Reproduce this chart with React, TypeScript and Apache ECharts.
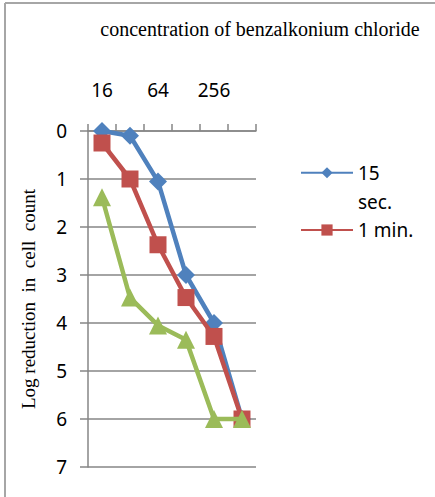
import React, { useEffect, useRef } from "react";
import * as echarts from "echarts";

const categories = ["16", "32", "64", "128", "256", "512"];
const sec15 = [0, 0.1, 1.05, 3.0, 4.0, 6.0];
const min1 = [0.25, 1.0, 2.37, 3.47, 4.28, 6.0];
const min5 = [1.38, 3.47, 4.05, 4.35, 6.0, 6.0];
const yTicks = [0, 7, 1];

const TITLE = "concentration of benzalkonium chloride";
const YNAME = "Log reduction  in  cell  count";

export default function App() {
  const ref = useRef<HTMLDivElement>(null);
  useEffect(() => {
    document.body.style.margin = "0";
    const chart = echarts.init(ref.current!, null, { renderer: "svg" });
    const grey = "#868686";
    const sans = "'Noto Sans', sans-serif";
    const serif = "'Liberation Serif', 'Times New Roman', serif";
    chart.setOption({
      animation: false,
      backgroundColor: "#ffffff",
      title: {
        text: TITLE,
        left: 255,
        top: 14,
        textAlign: "center",
        textStyle: { fontFamily: serif, fontWeight: "normal", fontSize: 20, color: "#000" },
      },
      graphic: [
        { type: "line", shape: { x1: 5, y1: 3, x2: 435, y2: 3 }, style: { stroke: "#a6a6a6", lineWidth: 2 } },
        { type: "line", shape: { x1: 5, y1: 3, x2: 5, y2: 497 }, style: { stroke: "#a6a6a6", lineWidth: 2 } },
      ],
      grid: { left: 88, right: 179, top: 131, bottom: 30 },
      legend: [
        {
          data: ["15 sec."],
          orient: "vertical",
          left: 300,
          top: 128.5,
          padding: 0,
          itemWidth: 52,
          itemHeight: 14,
          formatter: () => " \n15\nsec.",
          textStyle: { fontFamily: sans, fontSize: 19, color: "#000", lineHeight: 29.5 },
        },
        {
          data: ["1 min."],
          orient: "vertical",
          left: 300,
          top: 220,
          padding: 0,
          itemWidth: 52,
          itemHeight: 14,
          textStyle: { fontFamily: sans, fontSize: 19, color: "#000", lineHeight: 20 },
        },
      ],
      xAxis: {
        type: "category",
        position: "top",
        data: categories,
        boundaryGap: true,
        axisLine: { show: true, lineStyle: { color: grey, width: 1.5 } },
        axisTick: { show: true, length: 7, interval: 0, lineStyle: { color: grey, width: 1.5 } },
        axisLabel: { interval: 1, margin: 32, fontFamily: sans, fontSize: 19, color: "#000" },
        splitLine: { show: false },
      },
      yAxis: {
        type: "value",
        inverse: true,
        min: yTicks[0],
        max: yTicks[1],
        interval: yTicks[2],
        name: YNAME,
        nameLocation: "middle",
        nameGap: 50,
        nameRotate: 90,
        nameTextStyle: { fontFamily: serif, fontSize: 19, color: "#000" },
        axisLine: { show: true, lineStyle: { color: grey, width: 1.5 } },
        axisTick: { show: true, length: 8, lineStyle: { color: grey, width: 1.5 } },
        axisLabel: { margin: 21, fontFamily: sans, fontSize: 19, color: "#000" },
        splitLine: { show: true, lineStyle: { color: grey, width: 1.5 } },
      },
      series: [
        {
          name: "15 sec.",
          type: "line",
          data: sec15,
          color: "#4F81BD",
          lineStyle: { width: 4.5 },
          symbol: "diamond",
          symbolSize: 18,
          z: 3,
        },
        {
          name: "1 min.",
          type: "line",
          data: min1,
          color: "#C0504D",
          lineStyle: { width: 4.5 },
          symbol: "rect",
          symbolSize: 17,
          z: 4,
        },
        {
          name: "5 min.",
          type: "line",
          data: min5,
          color: "#9BBB59",
          lineStyle: { width: 4.5 },
          symbol: "triangle",
          symbolSize: 18,
          z: 5,
        },
      ],
    });
    return () => chart.dispose();
  }, []);
  return <div ref={ref} style={{ width: 435, height: 497 }} />;
}
